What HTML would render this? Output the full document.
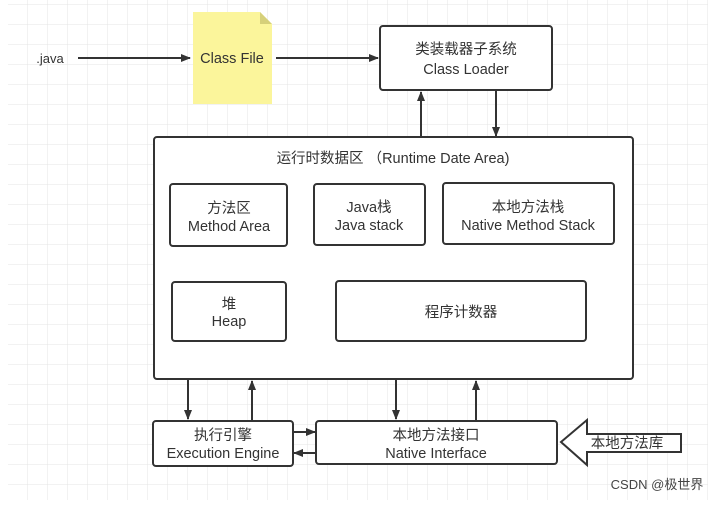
<!DOCTYPE html>
<html><head><meta charset="utf-8"><style>
body{margin:0;width:717px;height:500px;overflow:hidden;background:#fff;font-family:"Liberation Sans","Noto Sans CJK SC",sans-serif;}
</style></head><body>
<svg width="717" height="500" xmlns="http://www.w3.org/2000/svg" font-family="Liberation Sans, Noto Sans CJK SC, sans-serif" font-size="14.5" fill="#333">
<defs>
<pattern id="g" width="20" height="20" patternUnits="userSpaceOnUse" x="8" y="5">
<path d="M20 0V20M0 20H20" stroke="#e4e4e4" stroke-width="1" fill="none"/>
</pattern>
<marker id="a" markerWidth="10" markerHeight="10" refX="9" refY="5" orient="auto" markerUnits="userSpaceOnUse">
<path d="M0,1 L10,5 L0,9 z" fill="#333"/>
</marker>
</defs>
<rect x="8" y="0" width="700" height="500" fill="url(#g)"/>
<g stroke="#333" stroke-width="2" fill="none">
<line x1="78" y1="58" x2="190" y2="58" marker-end="url(#a)"/>
<line x1="276" y1="58" x2="378" y2="58" marker-end="url(#a)"/>
<line x1="421" y1="137" x2="421" y2="92" marker-end="url(#a)"/>
<line x1="496" y1="91" x2="496" y2="136" marker-end="url(#a)"/>
<line x1="188" y1="380" x2="188" y2="419" marker-end="url(#a)"/>
<line x1="252" y1="420" x2="252" y2="381" marker-end="url(#a)"/>
<line x1="396" y1="380" x2="396" y2="419" marker-end="url(#a)"/>
<line x1="476" y1="420" x2="476" y2="381" marker-end="url(#a)"/>
<line x1="293" y1="432" x2="315" y2="432" marker-end="url(#a)"/>
<line x1="316" y1="453" x2="294" y2="453" marker-end="url(#a)"/>
</g>
<path d="M193 12 H260 L272 24 V104 H193 Z" fill="#fbf59b"/>
<path d="M260 12 L272 24 H260 Z" fill="#d6d07a"/>
<g stroke="#333" stroke-width="2" fill="#fff">
<rect x="380" y="26" width="172" height="64" rx="3"/>
<rect x="154" y="137" width="479" height="242" rx="3"/>
<rect x="170" y="184" width="117" height="62" rx="3"/>
<rect x="314" y="184" width="111" height="61" rx="3"/>
<rect x="443" y="183" width="171" height="61" rx="3"/>
<rect x="172" y="282" width="114" height="59" rx="3"/>
<rect x="336" y="281" width="250" height="60" rx="3"/>
<rect x="153" y="421" width="140" height="45" rx="3"/>
<rect x="316" y="421" width="241" height="43" rx="3"/>
<path d="M561 442 L587 420 V434 H681 V452 H587 V465 Z"/>
</g>
<g text-anchor="middle">
<text x="50" y="63" font-size="13">.java</text>
<text x="232" y="63">Class File</text>
<text x="466" y="54">类装载器子系统</text>
<text x="466" y="74">Class Loader</text>
<text x="393" y="163">运行时数据区 （Runtime  Date  Area)</text>
<text x="229" y="213">方法区</text>
<text x="229" y="231">Method Area</text>
<text x="369" y="212">Java栈</text>
<text x="369" y="230">Java stack</text>
<text x="528" y="212">本地方法栈</text>
<text x="528" y="230">Native Method Stack</text>
<text x="229" y="309">堆</text>
<text x="229" y="326">Heap</text>
<text x="461" y="317">程序计数器</text>
<text x="223" y="440">执行引擎</text>
<text x="223" y="458">Execution Engine</text>
<text x="436" y="440">本地方法接口</text>
<text x="436" y="458">Native Interface</text>
<text x="627" y="448">本地方法库</text>
<text x="657" y="489" font-size="13" fill="#444">CSDN @极世界</text>
</g>
</svg>
</body></html>
